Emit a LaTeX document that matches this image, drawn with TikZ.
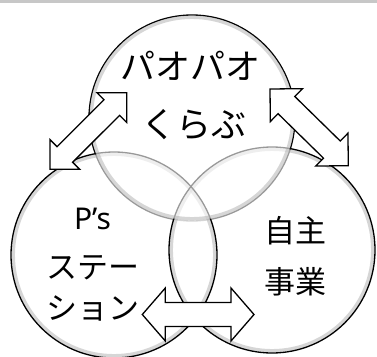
\documentclass[tikz,border=0pt]{standalone}
\usepackage{fontspec}
\setmainfont{Noto Sans}
\newfontfamily\jp{Noto Sans CJK JP}
\usetikzlibrary{calc}
\tikzset{
  rim/.style={draw=black, line width=1.3pt},
  halo/.style={draw=black!35, line width=3.5pt, draw opacity=0.45},
  veil/.style={fill=white, fill opacity=0.6},
  blockarrow/.style={draw=black, line width=1.3pt, fill=white, line join=miter},
  bigtxt/.style={font=\jp\fontsize{35}{40}\selectfont, inner sep=0pt},
  midtxt/.style={font=\jp\fontsize{31}{36}\selectfont, inner sep=0pt},
  lattxt/.style={font=\fontsize{30}{36}\selectfont, inner sep=0pt},
}
\newcommand\blockarrowpath[5]{%
  \draw[blockarrow] (#1) -- ($(#1)!#3!(#2)!#4!90:(#2)$) -- ($(#1)!#3!(#2)!#5!90:(#2)$)
    -- ($(#2)!#3!(#1)!#5!-90:(#1)$) -- ($(#2)!#3!(#1)!#4!-90:(#1)$) -- (#2)
    -- ($(#2)!#3!(#1)!#4!90:(#1)$) -- ($(#2)!#3!(#1)!#5!90:(#1)$)
    -- ($(#1)!#3!(#2)!#5!-90:(#2)$) -- ($(#1)!#3!(#2)!#4!-90:(#2)$) -- cycle;}
\begin{document}
\begin{tikzpicture}[x=1pt,y=-1pt]
\useasboundingbox (0,0) rectangle (377,356);
\clip (0,0) rectangle (377,356);
\fill[white] (0,0) rectangle (377,356);
\fill[black!22] (0,0) rectangle (377,3.4);
% circle centres
\coordinate (cT) at (192,118);
\coordinate (cL) at (114,255);
\coordinate (cR) at (272,250);
% top circle
\draw[rim] (cT) circle[radius=103pt];
% veils of left and right
\fill[veil] (cL) circle[radius=102pt];
\fill[veil] (cR) circle[radius=102pt];
\draw[halo] (cL) circle[radius=100.8pt];
\draw[halo] (cR) circle[radius=100.8pt];
\draw[rim] (cL) circle[radius=103pt];
\draw[rim] (cR) circle[radius=103pt];
% veil of top
\fill[veil] (cT) circle[radius=102pt];
\draw[halo] (cT) circle[radius=100.8pt];
% texts
\node[bigtxt] (t1) at (190,66) {パオパオ};
\node[bigtxt] (t2) at (194,125) {くらぶ};
\node[lattxt] (t3) at (92.5,219) {P’s};
\node[midtxt] (t4) at (92.5,268) {ステー};
\node[midtxt] (t5) at (93,308) {ション};
\node[midtxt] (t6) at (295,231) {自主};
\node[midtxt] (t7) at (295,282) {事業};
% arrows
\coordinate (a1s) at (50,169.3);
\coordinate (a1e) at (126.7,92.7);
\coordinate (a2s) at (270,89);
\coordinate (a2e) at (348.3,165.7);
\coordinate (a3s) at (142.3,314.5);
\coordinate (a3e) at (254,314.5);
\blockarrowpath{a1s}{a1e}{21pt}{21pt}{11pt}
\blockarrowpath{a2s}{a2e}{23pt}{23pt}{12pt}
\blockarrowpath{a3s}{a3e}{23pt}{26.5pt}{12pt}
\end{tikzpicture}
\end{document}
